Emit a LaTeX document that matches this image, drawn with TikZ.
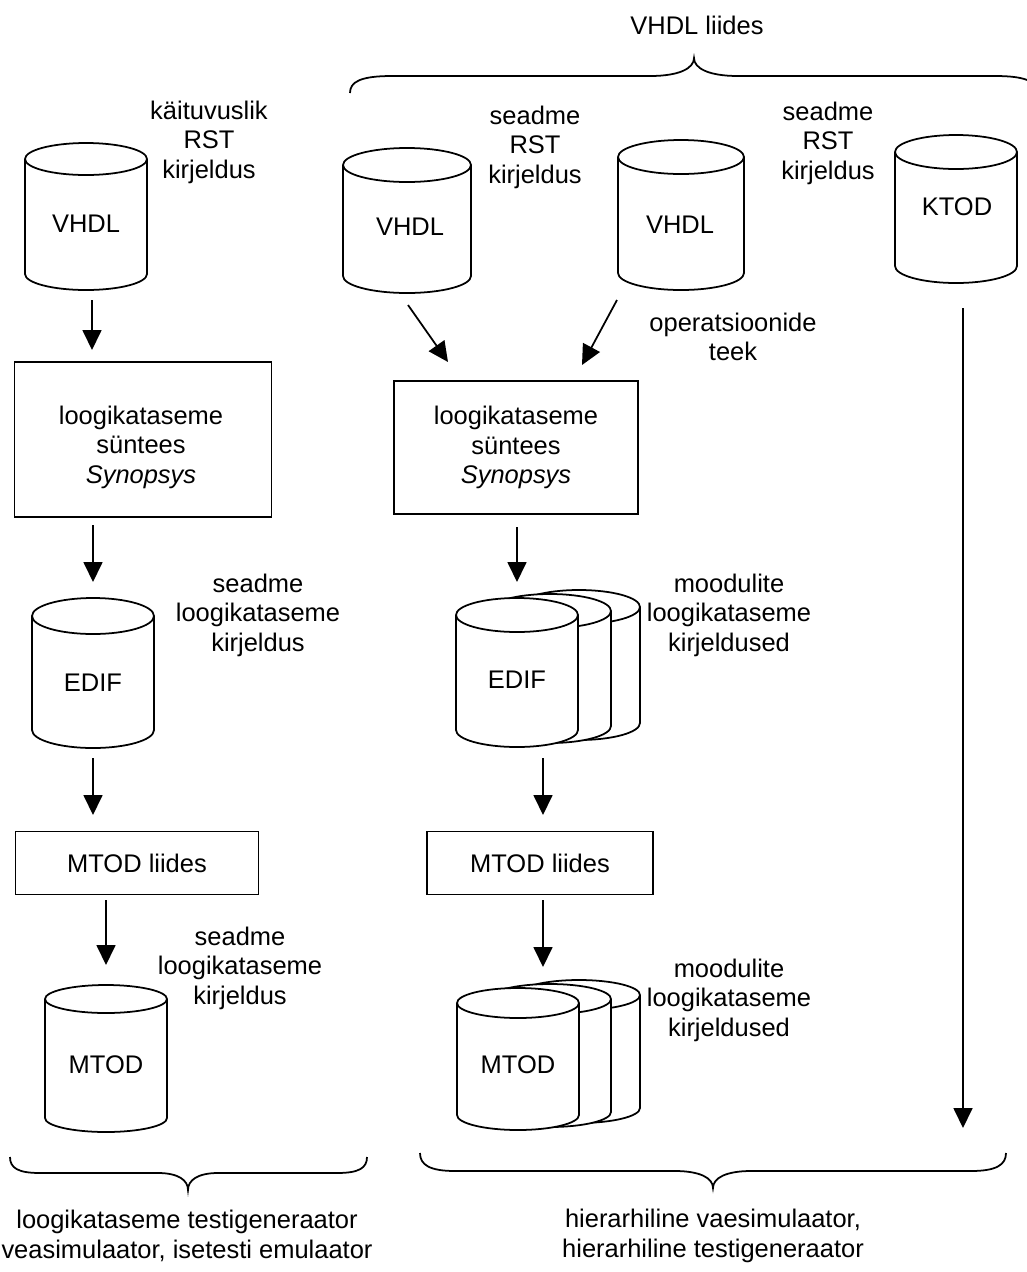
\documentclass[tikz,border=0pt]{standalone}
\usepackage{fontspec}
\setmainfont{Liberation Sans}
\usetikzlibrary{arrows.meta}

% Database drum: #1 centre x, #2 top, #3 bottom, #4 lid half-height, #5 half-width
\newcommand\dbdrum[5]{%
  \draw[fill=white] ({#1-#5},{-(#2+#4)}) -- ({#1-#5},{-(#3-#4)})
    arc[start angle=180,end angle=360,x radius=#5,y radius=#4]
    -- ({#1+#5},{-(#2+#4)})
    arc[start angle=0,end angle=180,x radius=#5,y radius=#4] -- cycle;
  \draw ({#1-#5},{-(#2+#4)}) arc[start angle=180,end angle=360,x radius=#5,y radius=#4];
}

\begin{document}
\begin{tikzpicture}[x=0.02cm,y=0.02cm,line width=1pt,
  txt/.style={inner sep=0pt,align=center,font=\fontsize{14.5}{16.8}\selectfont},
  procbox/.style={draw,txt},
  flow/.style={-{Triangle[length=0.4cm,width=0.38cm]}}]
\useasboundingbox (0,0) rectangle (1027,-1272);

% ---------------- left branch ----------------
\dbdrum{86}{143}{290}{16}{61}
\node[txt] (vhdlL) at (86,-224) {VHDL};
\node[txt] (lblBeh) at (209,-142) {käituvuslik\\RST\\kirjeldus};

\node[procbox,minimum width=257*0.02cm,minimum height=155*0.02cm] (synL) at (143,-439.5) {};
\node[txt] (synLtxt) at (141,-447) {loogikataseme\\süntees\\\textit{Synopsys}};

\dbdrum{93}{598}{748}{18}{61}
\node[txt] (edifL) at (93,-683) {EDIF};
\node[txt] (lblDevA) at (258,-615) {seadme\\loogikataseme\\kirjeldus};

\node[procbox,minimum width=243*0.02cm,minimum height=63*0.02cm] (mtodIfL) at (137,-863) {MTOD liides};

\dbdrum{106}{985}{1132}{14}{61}
\node[txt] (mtodL) at (106,-1065) {MTOD};
\node[txt] (lblDevB) at (240,-968) {seadme\\loogikataseme\\kirjeldus};

\coordinate (a1s) at (92,-300);  \coordinate (a1e) at (92,-350);
\coordinate (a2s) at (93,-525);  \coordinate (a2e) at (93,-582);
\coordinate (a3s) at (93,-758);  \coordinate (a3e) at (93,-815);
\coordinate (a4s) at (106,-900); \coordinate (a4e) at (106,-965);
\draw[flow] (a1s) -- (a1e);
\draw[flow] (a2s) -- (a2e);
\draw[flow] (a3s) -- (a3e);
\draw[flow] (a4s) -- (a4e);

% left bottom brace and caption
\draw (10,-1157) .. controls (10,-1168) and (18,-1173) .. (40,-1173)
  -- (158,-1173) .. controls (178,-1173) and (188,-1180) .. (188,-1190)
  .. controls (188,-1180) and (198,-1173) .. (218,-1173)
  -- (337,-1173) .. controls (359,-1173) and (367,-1168) .. (367,-1157);
\node[txt] (capL) at (187,-1236) {loogikataseme testigeneraator\\veasimulaator, isetesti emulaator};

% ---------------- right branch ----------------
\node[txt] (vhdlIf) at (697,-25) {VHDL liides};
\draw (350,-93) .. controls (350,-82) and (360,-76) .. (392,-76)
  -- (650,-76) .. controls (680,-76) and (694,-68) .. (694,-58)
  .. controls (694,-68) and (708,-76) .. (738,-76)
  -- (995,-76) .. controls (1027,-76) and (1037,-82) .. (1037,-93);

\dbdrum{407}{148}{293}{17}{64}
\node[txt] (vhdlR1) at (410,-227) {VHDL};
\node[txt] (lblDevR1) at (535,-147) {seadme\\RST\\kirjeldus};

\dbdrum{681}{140}{290}{17}{63}
\node[txt] (vhdlR2) at (680,-225) {VHDL};
\node[txt] (lblDevR2) at (828,-143) {seadme\\RST\\kirjeldus};

\dbdrum{956}{135}{283}{17}{61}
\node[txt] (ktod) at (957,-207) {KTOD};

\node[txt] (lblLib) at (733,-337) {operatsioonide\\teek};

\node[procbox,minimum width=244*0.02cm,minimum height=133*0.02cm] (synR) at (516,-447.5)
  {loogikataseme\\süntees\\\textit{Synopsys}};

% stacked EDIF drums, drawn back to front
\dbdrum{579}{590}{740}{17}{61}
\dbdrum{550}{594}{743}{17}{61}
\dbdrum{517}{598}{747}{17}{61}
\node[txt] (edifR) at (517,-680) {EDIF};
\node[txt] (lblModA) at (729,-615) {moodulite\\loogikataseme\\kirjeldused};

\node[procbox,minimum width=226*0.02cm,minimum height=63*0.02cm] (mtodIfR) at (540,-863) {MTOD liides};

% stacked MTOD drums, drawn back to front
\dbdrum{579}{980}{1123}{15}{61}
\dbdrum{550}{984}{1127}{15}{61}
\dbdrum{518}{988}{1130}{15}{61}
\node[txt] (mtodR) at (518,-1065) {MTOD};
\node[txt] (lblModB) at (729,-1000) {moodulite\\loogikataseme\\kirjeldused};

\coordinate (d1s) at (408,-305); \coordinate (d1e) at (448,-362);
\coordinate (d2s) at (617,-300); \coordinate (d2e) at (582,-365);
\coordinate (a5s) at (517,-527); \coordinate (a5e) at (517,-582);
\coordinate (a6s) at (543,-758); \coordinate (a6e) at (543,-815);
\coordinate (a7s) at (543,-900); \coordinate (a7e) at (543,-967);
\coordinate (kts) at (963,-308); \coordinate (kte) at (963,-1128);
\draw[flow] (d1s) -- (d1e);
\draw[flow] (d2s) -- (d2e);
\draw[flow] (a5s) -- (a5e);
\draw[flow] (a6s) -- (a6e);
\draw[flow] (a7s) -- (a7e);
\draw[flow] (kts) -- (kte);

% right bottom brace and caption
\draw (420,-1153) .. controls (420,-1165) and (430,-1171) .. (455,-1171)
  -- (675,-1171) .. controls (700,-1171) and (713,-1178) .. (713,-1188)
  .. controls (713,-1178) and (726,-1171) .. (751,-1171)
  -- (971,-1171) .. controls (996,-1171) and (1006,-1165) .. (1006,-1153);
\node[txt] (capR) at (713,-1236) {hierarhiline vaesimulaator,\\hierarhiline testigeneraator};
\end{tikzpicture}
\end{document}
